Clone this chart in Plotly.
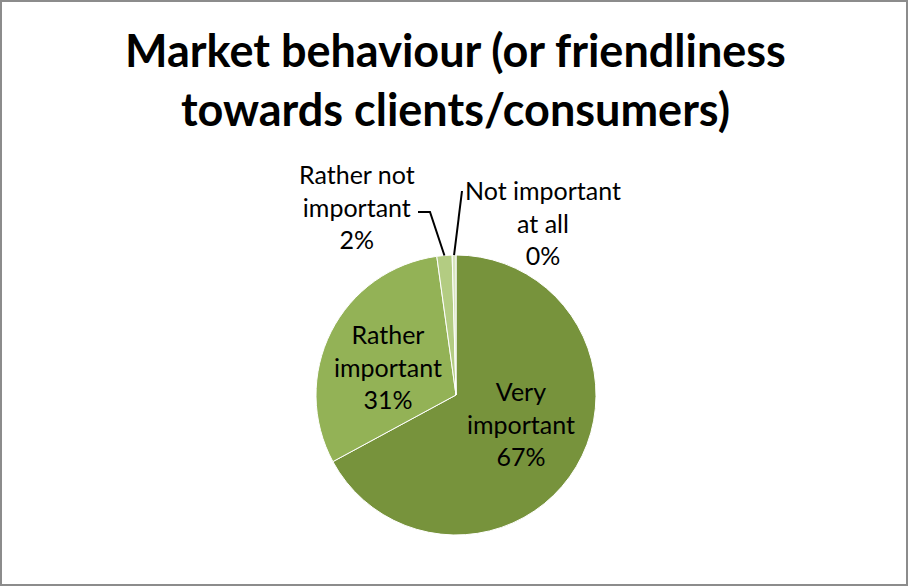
import math
import plotly.graph_objects as go

# Survey responses: importance of market behaviour
categories = ["Very important", "Rather important", "Rather not important", "Not important at all"]
label_lines = ["Very<br>important", "Rather<br>important", "Rather not<br>important", "Not important<br>at all"]
responses = [153, 70, 4, 1]
colors = ["#77933C", "#93B256", "#B3CC82", "#D7E4BD"]

W, H = 909, 587


def fx(x):
    return x / W


def fy(y):
    return 1 - y / H


# pie geometry in pixels
cx, cy, r = 456, 395, 140

total = sum(responses)
pcts = [v / total * 100 for v in responses]

fig = go.Figure(
    go.Pie(
        labels=categories,
        values=responses,
        sort=False,
        direction="clockwise",
        rotation=0,
        marker=dict(colors=colors, line=dict(color="white", width=1)),
        textinfo="none",
        hoverinfo="label+percent",
        showlegend=False,
        domain=dict(x=[fx(cx - r), fx(cx + r)], y=[fy(cy + r), fy(cy - r)]),
    )
)

# label anchor positions (pixels) for each slice
label_pos = [(521, 423), (388, 366), (357, 207), (543, 222)]

annotations = []
for txt, pct, (lx, ly) in zip(label_lines, pcts, label_pos):
    annotations.append(
        dict(
            x=fx(lx), y=fy(ly), xref="paper", yref="paper",
            text=f"{txt}<br>{round(pct)}%",
            showarrow=False, xanchor="center", yanchor="middle",
            align="center",
            font=dict(family="Lato", size=25, color="#000000"),
        )
    )

annotations.append(
    dict(
        x=fx(455), y=fy(79), xref="paper", yref="paper",
        text="Market behaviour (or friendliness<br>towards clients/consumers)",
        showarrow=False, xanchor="center", yanchor="middle", align="center",
        font=dict(family="Lato", size=45, color="#000000", weight="bold"),
    )
)


def edge_point(idx):
    # point on the rim at the middle of slice idx (clockwise from 12 o'clock)
    start = sum(responses[:idx])
    mid = (start + responses[idx] / 2) / total * 2 * math.pi
    return cx + r * math.sin(mid), cy - r * math.cos(mid)


shapes = []
ex, ey = edge_point(2)
shapes.append(dict(type="path", xref="paper", yref="paper",
                   path=f"M {fx(418)} {fy(212)} L {fx(430)} {fy(212)} L {fx(ex)} {fy(ey)}",
                   line=dict(color="black", width=2)))
ex, ey = edge_point(3)
shapes.append(dict(type="path", xref="paper", yref="paper",
                   path=f"M {fx(462)} {fy(191)} L {fx(ex)} {fy(ey)}",
                   line=dict(color="black", width=2)))

# chart frame
shapes.append(dict(type="rect", xref="paper", yref="paper",
                   x0=fx(1), x1=fx(907), y0=fy(585), y1=fy(1),
                   line=dict(color="#8C8C8C", width=2)))

fig.update_layout(
    width=W, height=H,
    margin=dict(l=0, r=0, t=0, b=0),
    paper_bgcolor="white",
    plot_bgcolor="white",
    annotations=annotations,
    shapes=shapes,
)

fig.write_html("out.html")
